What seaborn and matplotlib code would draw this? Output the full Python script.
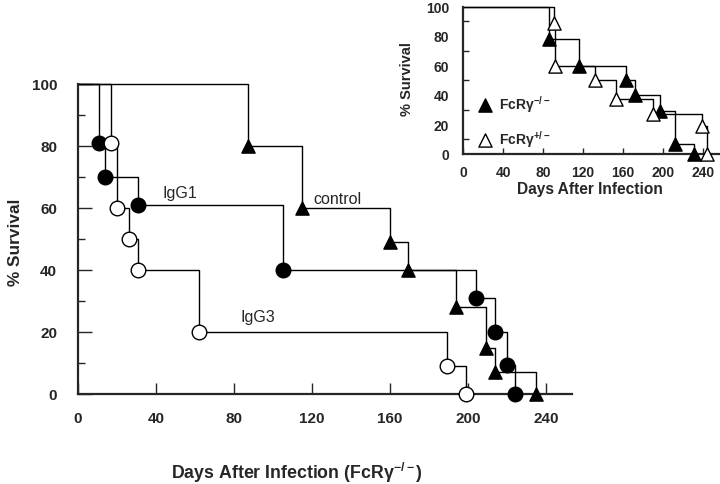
import numpy as np
import pandas as pd
import matplotlib
matplotlib.use("Agg")
import matplotlib.pyplot as plt
from matplotlib.ticker import MultipleLocator
import seaborn as sns

# ---- data ----
ctrl_days = [0, 87, 115, 160, 169, 194, 209, 214, 235]
ctrl_surv = [100, 80, 60, 49, 40, 28, 15, 7, 0]
igg1_days = [0, 11, 14, 31, 105, 204, 214, 220, 224]
igg1_surv = [100, 81, 70, 61, 40, 31, 20, 9.5, 0]
igg3_days = [0, 17, 20, 26, 31, 62, 189, 199]
igg3_surv = [100, 81, 60, 50, 40, 20, 9, 0]

ko_days = [0, 86, 116, 163, 172, 197, 212, 231]
ko_surv = [100, 78, 60, 50, 40, 29, 7, 0]
het_days = [0, 91, 92, 132, 153, 190, 239, 244]
het_surv = [100, 89, 60, 50, 37, 27, 19, 0]

x_ticks = [0, 40, 80, 120, 160, 200, 240]
y_ticks = [0, 20, 40, 60, 80, 100]
group_labels = ["IgG1", "control", "IgG3"]
ko_label = "FcRγ$^{-/-}$"
het_label = "FcRγ$^{+/-}$"

sns.set_style("ticks")
plt.rcParams["font.family"] = ["Liberation Sans", "DejaVu Sans"]
plt.rcParams["font.weight"] = "bold"
plt.rcParams["mathtext.fontset"] = "custom"
plt.rcParams["mathtext.rm"] = "Liberation Sans:bold"
plt.rcParams["mathtext.it"] = "Liberation Sans:bold"
plt.rcParams["mathtext.bf"] = "Liberation Sans:bold"


def km(ax, days, surv, marker, filled, ms, label=None):
    df = pd.DataFrame({"day": days, "surv": surv})
    sns.lineplot(data=df, x="day", y="surv", ax=ax, drawstyle="steps-post",
                 color="black", lw=1.0, estimator=None, sort=False,
                 clip_on=False, zorder=2)
    ev = df.iloc[1:]
    sns.scatterplot(data=ev, x="day", y="surv", ax=ax, marker=marker,
                    s=ms ** 2, color=("black" if filled else "white"),
                    edgecolor="black", linewidth=1.0, clip_on=False,
                    zorder=3, label=label)


fig = plt.figure(figsize=(7.2, 4.85), dpi=100)

# ---- main axes ----
ax = fig.add_axes([78 / 720, 1 - 395 / 485, 494 / 720, 310 / 485])
km(ax, ctrl_days, ctrl_surv, "^", True, 9.5)
km(ax, igg1_days, igg1_surv, "o", True, 10.5)
km(ax, igg3_days, igg3_surv, "o", False, 10.5)
ax.set_xlim(0, 253.3)
ax.set_ylim(0, 100)
ax.set_xticks(x_ticks)
ax.set_yticks(y_ticks)
ax.yaxis.set_minor_locator(MultipleLocator(10))
for s in ["top", "right"]:
    ax.spines[s].set_visible(False)
for s in ["left", "bottom"]:
    ax.spines[s].set_linewidth(1.6)
ax.tick_params(axis="y", which="major", direction="in", length=10, width=1,
               pad=15, labelsize=11)
ax.tick_params(axis="y", which="minor", direction="in", length=5, width=1)
ax.tick_params(axis="x", direction="in", length=8, width=1, pad=12,
               labelsize=11)
ax.set_xlabel("Days After Infection (FcRγ$^{-/-}$)", fontsize=12.8,
              fontweight="bold")
ax.xaxis.set_label_coords(0.443, -0.250)
ax.xaxis.label.set_verticalalignment("center")
ax.set_ylabel("% Survival", fontsize=12.4, fontweight="bold")
ax.yaxis.set_label_coords(-0.112, 0.494)
ax.text(52, 65, group_labels[0], ha="center", va="center", fontsize=11.5,
        fontweight="normal")
ax.text(133, 63, group_labels[1], ha="center", va="center", fontsize=11.5,
        fontweight="normal")
ax.text(92, 25, group_labels[2], ha="center", va="center", fontsize=11.5,
        fontweight="normal")

# ---- inset axes ----
axi = fig.add_axes([463 / 720, 1 - 155 / 485, 257 / 720, 147.5 / 485])
axi.patch.set_alpha(0)
km(axi, ko_days, ko_surv, "^", True, 9.5, label=ko_label)
km(axi, het_days, het_surv, "^", False, 9.5, label=het_label)
axi.set_xlim(0, 257)
axi.set_ylim(0, 100)
axi.set_xticks(x_ticks)
axi.set_yticks(y_ticks)
axi.yaxis.set_minor_locator(MultipleLocator(10))
for s in ["top", "right"]:
    axi.spines[s].set_visible(False)
for s in ["left", "bottom"]:
    axi.spines[s].set_linewidth(1.6)
axi.tick_params(axis="y", which="major", direction="in", length=0, pad=10,
                labelsize=10)
axi.tick_params(axis="y", which="minor", direction="in", length=4, width=1)
axi.tick_params(axis="x", direction="in", length=4, width=1, pad=8,
                labelsize=10)
axi.set_xlabel("Days After Infection", fontsize=11.2, fontweight="bold")
axi.xaxis.set_label_coords(0.494, -0.183)
axi.set_ylabel("% Survival", fontsize=10.5, fontweight="bold")
axi.yaxis.set_label_coords(-0.19, 0.515)
axi.legend(frameon=False, loc="upper left", bbox_to_anchor=(0.058, 0.41),
           borderpad=0, borderaxespad=0, handlelength=1.0,
           handletextpad=0.55, labelspacing=1.0, fontsize=10,
           scatterpoints=1)

fig.savefig("out.png", dpi=100, facecolor="white")
